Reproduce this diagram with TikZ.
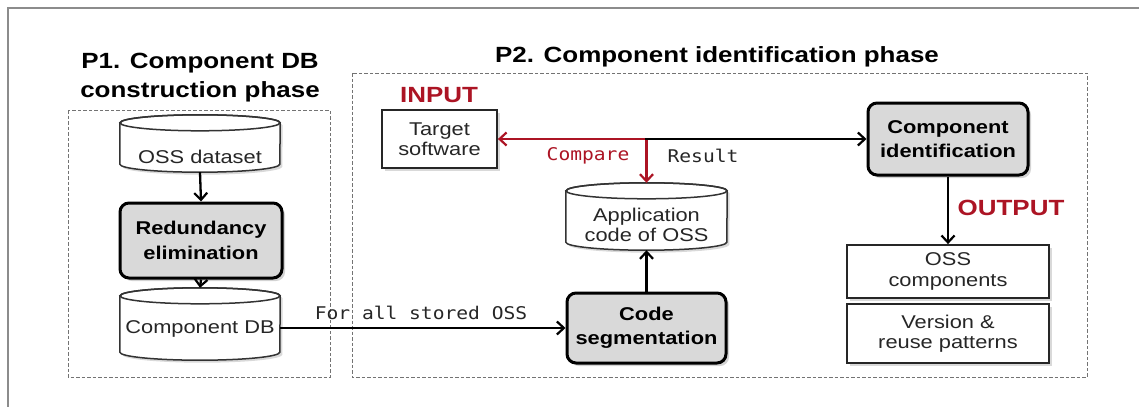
\documentclass[tikz,border=0pt]{standalone}
\usepackage{fontspec}
\setmainfont[FakeStretch=1.18]{Liberation Sans}
\setmonofont[FakeStretch=1.12]{DejaVu Sans Mono}
\usetikzlibrary{arrows.meta,shadows}
\definecolor{darkred}{RGB}{172,20,36}
\definecolor{boxgray}{RGB}{217,217,217}

% database cylinder drawn around an (invisible) rectangular node
% #1 = node name, #2 = half width in pt
\newcommand\drawcyl[2]{%
  \draw[cylline, fill=white, drop shadow={opacity=0.3, shadow xshift=2.5pt, shadow yshift=-2.5pt}]
    ([yshift=-8pt]#1.north west) -- ([yshift=8pt]#1.south west)
    arc[start angle=180, end angle=360, x radius=#2pt, y radius=8pt]
    -- ([yshift=-8pt]#1.north east)
    arc[start angle=0, end angle=180, x radius=#2pt, y radius=8pt] -- cycle;
  \draw[cylline] ([yshift=-8pt]#1.north) ellipse[x radius=#2pt, y radius=8pt];
}

\begin{document}
\begin{tikzpicture}[x=1pt, y=-1pt,
  every node/.style={inner sep=0pt, align=center, text=black!85},
  txt/.style={font=\fontsize{18.5}{20.5}\selectfont},
  title/.style={font=\fontsize{22}{29}\selectfont\bfseries, text=black},
  tag/.style={font=\fontsize{22}{26}\selectfont\bfseries, text=darkred},
  mono/.style={font=\fontsize{17.5}{20}\selectfont\ttfamily},
  phase/.style={draw=black!55, line width=0.9pt, dash pattern=on 3.5pt off 2pt},
  cylline/.style={draw=black!80, line width=1.5pt},
  holder/.style={rectangle, minimum width=#1},
  plainbox/.style={draw=black!85, line width=1.8pt, fill=white,
    drop shadow={opacity=0.3, shadow xshift=2.5pt, shadow yshift=-2.5pt},
    font=\fontsize{18.5}{20.5}\selectfont},
  stepbox/.style={draw=black, line width=3pt, rounded corners=9pt, fill=boxgray,
    drop shadow={opacity=0.35, shadow xshift=3pt, shadow yshift=-3pt},
    font=\fontsize{18.5}{24.5}\selectfont\bfseries, text=black},
  conn/.style={draw=black, line width=2.3pt, -{Straight Barb[length=7pt,width=13pt,line width=2.2pt]}},
  redconn/.style={draw=darkred, line width=2.3pt, -{Straight Barb[length=7pt,width=13pt,line width=2.2pt]}},
]
\useasboundingbox (0,0) rectangle (1139,407);

% outer frame edges
\draw[black!45, line width=1.5pt] (1139,8) -- (8,8) -- (8,407);

% phase frames and titles
\draw[phase] (68,110) rectangle (330,377);
\draw[phase] (352,73) rectangle (1087,377);
\node[title] (t1) at (200,78) {P1. Component DB\\construction phase};
\node[title] (t2) at (717,57) {P2. Component identification phase};

% P1: component DB construction
\node[holder=160pt, minimum height=57pt] (oss) at (200,143.5) {};
\drawcyl{oss}{80}
\node[txt] (oss-t) at (200,157) {OSS dataset};

\node[stepbox, minimum width=162pt, minimum height=75pt] (red) at (201,240.5) {Redundancy\\elimination};

\node[holder=160pt, minimum height=72pt] (cdb) at (200,324) {};
\drawcyl{cdb}{80}
\node[txt] (cdb-t) at (200,329) {Component DB};

\draw[conn] (oss.south) -- (red.north);
\draw[conn] (red.south) -- (cdb.north);

% P2: component identification
\node[tag] (in) at (439,95) {INPUT};
\node[plainbox, minimum width=115pt, minimum height=58pt] (target) at (439.5,139) {Target\\software};

\node[holder=161pt, minimum height=67pt] (app) at (646.5,216.5) {};
\drawcyl{app}{80.5}
\node[txt] (app-t) at (646.5,225) {Application\\code of OSS};

\node[stepbox, minimum width=159pt, minimum height=70pt] (seg) at (646.5,328) {Code\\segmentation};

\node[stepbox, minimum width=160pt, minimum height=72pt] (cid) at (948,139) {Component\\identification};

\node[tag] (out) at (1011,208) {OUTPUT};
\node[plainbox, minimum width=202pt, minimum height=53pt] (ossc) at (948,271.5) {OSS\\components};
\node[plainbox, minimum width=202pt, minimum height=59pt] (ver) at (948,333.5) {Version \&\\reuse patterns};

% connectors
\coordinate (j) at (app.north |- target.east);
\draw[conn] (cdb.east |- seg.west) -- (seg.west);
\node[mono] (all) at (421,313) {For all stored OSS};
\draw[conn] (seg.north) -- (app.south);
\draw[redconn] (j) -- (target.east);
\draw[redconn] (j) -- (app.north);
\draw[conn] ([xshift=-1.1pt]j) -- (cid.west);
\node[mono, text=darkred] (cmp) at (588,156) {Compare};
\node[mono] (res) at (703,156) {Result};
\draw[conn] (cid.south) -- (ossc.north);
\end{tikzpicture}
\end{document}
